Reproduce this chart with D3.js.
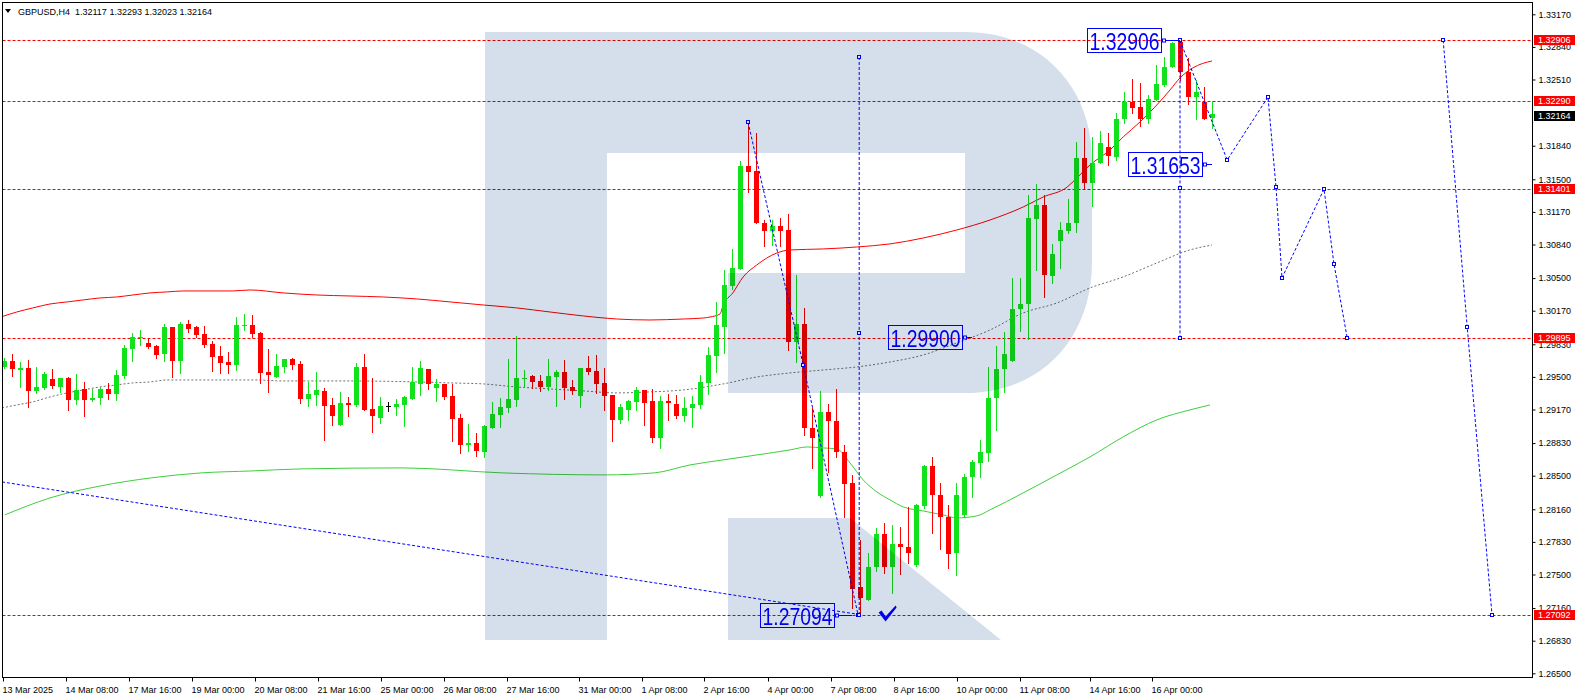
<!DOCTYPE html>
<html><head><meta charset="utf-8">
<script src="https://cdn.jsdelivr.net/npm/d3@7"></script>
<style>body{margin:0;background:#fff;overflow:hidden}svg{display:block;font-family:"Liberation Sans",Arial,sans-serif}</style>
</head><body><svg id="c" width="1578" height="698"></svg>
<script>
// ---------- DATA ----------
const title = "GBPUSD,H4  1.32117 1.32293 1.32023 1.32164";
const opens = [1.2960,1.2966,1.2957,1.2959,1.2936,1.2939,1.2948,1.2940,1.2949,1.2927,1.2938,1.2927,1.2929,1.2938,1.2933,1.2951,1.2978,1.2989,1.2984,1.2981,1.2973,1.3000,1.2966,1.3004,1.3001,1.2993,1.2983,1.2971,1.2965,1.2962,1.3002,1.3003,1.2994,1.2955,1.2950,1.2960,1.2968,1.2963,1.2928,1.2932,1.2936,1.2922,1.2901,1.2924,1.2922,1.2960,1.2918,1.2908,1.2921,1.2920,1.2922,1.2928,1.2943,1.2958,1.2939,1.2943,1.2931,1.2908,1.2881,1.2883,1.2874,1.2898,1.2911,1.2919,1.2927,1.2948,1.2951,1.2946,1.2940,1.2950,1.2955,1.2940,1.2931,1.2959,1.2956,1.2944,1.2932,1.2906,1.2917,1.2925,1.2937,1.2926,1.2888,1.2926,1.2923,1.2910,1.2919,1.2922,1.2944,1.2971,1.3000,1.3042,1.3059,1.3163,1.3158,1.3106,1.3098,1.3103,1.3099,1.2985,1.3004,1.2898,1.2829,1.2914,1.2905,1.2874,1.2843,1.2737,1.2724,1.2758,1.2791,1.2758,1.2781,1.2778,1.2760,1.2819,1.2860,1.2830,1.2808,1.2772,1.2810,1.2849,1.2863,1.2873,1.2929,1.2958,1.2966,1.3019,1.3024,1.3110,1.3124,1.3052,1.3088,1.3098,1.3106,1.3172,1.3146,1.3167,1.3183,1.3173,1.3211,1.3228,1.3223,1.3211,1.3230,1.3245,1.3264,1.3289,1.3259,1.3233,1.3228,1.32117];
const highs = [1.2969,1.2973,1.2965,1.2967,1.2960,1.2955,1.2958,1.2949,1.2950,1.2953,1.2945,1.2938,1.2940,1.2944,1.2957,1.2982,1.2994,1.2997,1.2989,1.2982,1.3004,1.3001,1.3006,1.3008,1.3002,1.3002,1.2986,1.2981,1.2975,1.3011,1.3014,1.3013,1.2995,1.2978,1.2973,1.2968,1.2969,1.2966,1.2945,1.2955,1.2939,1.2929,1.2935,1.2930,1.2964,1.2973,1.2949,1.2930,1.2925,1.2928,1.2931,1.2960,1.2966,1.2958,1.2948,1.2943,1.2943,1.2912,1.2902,1.2893,1.2901,1.2925,1.2929,1.2968,1.2991,1.2957,1.2952,1.2952,1.2968,1.2957,1.2967,1.2947,1.2959,1.2971,1.2972,1.2959,1.2932,1.2923,1.2927,1.2940,1.2937,1.2938,1.2931,1.2933,1.2932,1.2930,1.2931,1.2952,1.2980,1.3026,1.3058,1.3079,1.3169,1.3208,1.3197,1.3109,1.3109,1.3111,1.3115,1.3053,1.3020,1.2919,1.2936,1.2923,1.2938,1.2881,1.2851,1.2785,1.2772,1.2797,1.2802,1.2800,1.2798,1.2818,1.2821,1.2861,1.2869,1.2843,1.2820,1.2843,1.2852,1.2866,1.2886,1.2960,1.2981,1.2995,1.3050,1.3050,1.3134,1.3145,1.3134,1.3085,1.3107,1.3130,1.3188,1.3202,1.3193,1.3199,1.3197,1.3217,1.3238,1.3252,1.3247,1.3235,1.3266,1.3274,1.3289,1.32906,1.3273,1.3250,1.3243,1.32293];
const lows = [1.2959,1.2951,1.2940,1.2920,1.2934,1.2938,1.2939,1.2935,1.2916,1.2923,1.2910,1.2926,1.2923,1.2928,1.2927,1.2949,1.2966,1.2982,1.2979,1.2969,1.2966,1.2950,1.2954,1.2995,1.2990,1.2980,1.2956,1.2954,1.2954,1.2957,1.2997,1.2990,1.2944,1.2935,1.2950,1.2955,1.2958,1.2924,1.2921,1.2922,1.2886,1.2901,1.2901,1.2910,1.2921,1.2917,1.2894,1.2903,1.2915,1.2911,1.2900,1.2928,1.2932,1.2938,1.2926,1.2928,1.2885,1.2873,1.2875,1.2870,1.2869,1.2898,1.2899,1.2914,1.2921,1.2940,1.2939,1.2936,1.2937,1.2921,1.2928,1.2933,1.2920,1.2953,1.2934,1.2917,1.2885,1.2903,1.2906,1.2917,1.2901,1.2884,1.2878,1.2906,1.2908,1.2905,1.2899,1.2919,1.2933,1.2955,1.2974,1.3039,1.3059,1.3137,1.3106,1.3082,1.3084,1.3082,1.2977,1.2965,1.2891,1.2858,1.2828,1.2854,1.2869,1.2808,1.2716,1.27094,1.2724,1.2754,1.2752,1.2731,1.2750,1.2762,1.2759,1.2817,1.2792,1.2776,1.2757,1.2749,1.2808,1.2828,1.2849,1.2865,1.2896,1.2935,1.2966,1.2996,1.2988,1.3058,1.3031,1.3045,1.3060,1.3096,1.3097,1.3141,1.3123,1.3167,1.3164,1.3170,1.3207,1.3217,1.3204,1.3207,1.3230,1.3244,1.3264,1.3250,1.3226,1.3211,1.3211,1.32023];
const closes = [1.2966,1.2958,1.2959,1.2936,1.2940,1.2953,1.2941,1.2949,1.2927,1.2937,1.2927,1.2929,1.2938,1.2933,1.2952,1.2979,1.2990,1.2990,1.2980,1.2972,1.3000,1.2966,1.3004,1.2998,1.2992,1.2982,1.2970,1.2964,1.2962,1.3003,1.3003,1.2993,1.2954,1.2952,1.2961,1.2968,1.2962,1.2928,1.2933,1.2937,1.2921,1.2910,1.2924,1.2922,1.2960,1.2917,1.2910,1.2921,1.2921,1.2923,1.2930,1.2945,1.2959,1.2943,1.2943,1.2930,1.2907,1.2881,1.2883,1.2875,1.2900,1.2912,1.2920,1.2928,1.2949,1.2949,1.2945,1.2940,1.2951,1.2955,1.2939,1.2936,1.2959,1.2955,1.2943,1.2931,1.2906,1.2920,1.2926,1.2937,1.2924,1.2888,1.2926,1.2924,1.2910,1.2919,1.2923,1.2945,1.2972,1.3003,1.3043,1.3060,1.3163,1.3157,1.3106,1.3098,1.3103,1.3098,1.2985,1.3004,1.2898,1.2888,1.2914,1.2905,1.2874,1.2842,1.2735,1.2726,1.2758,1.2791,1.2758,1.2781,1.2778,1.2772,1.2820,1.2860,1.2830,1.2808,1.2771,1.2830,1.2849,1.2864,1.2874,1.2929,1.2958,1.2973,1.3019,1.3024,1.3111,1.3124,1.3053,1.3074,1.3099,1.3106,1.3172,1.3146,1.3167,1.3187,1.3174,1.3211,1.3228,1.3222,1.3211,1.3231,1.3246,1.3264,1.3288,1.3259,1.3233,1.3238,1.3211,1.32164];

// moving averages (bar position, price)
const redPos = [-0.25,1.6,3.6,5.75,7.9,9.9,12,14.1,16.1,18.25,20.4,22.4,24.5,28.6,30.75,34.9,39.1,43.25,47.4,51.6,55.75,59.9,64.1,68.25,72.4,76.6,80.75,84.9,87.4,88.25,89.5,89.9,91.1,92.4,94.1,96.6,98.25,102.4,106.6,110.75,114.9,119.1,123.25,127.4,129.9,132.9,134.1,135.75,138.25,139.9,142,144.1,145.75,147,148.6,151];
const redVal = [1.30110,1.30157,1.30198,1.30238,1.30259,1.30279,1.30299,1.30309,1.30329,1.30350,1.30360,1.30370,1.30370,1.30370,1.30380,1.30350,1.30329,1.30319,1.30309,1.30289,1.30259,1.30228,1.30198,1.30157,1.30117,1.30086,1.30076,1.30086,1.30096,1.30106,1.30137,1.30228,1.30350,1.30512,1.30633,1.30754,1.30785,1.30795,1.30815,1.30846,1.30906,1.30987,1.31088,1.31220,1.31321,1.31422,1.31513,1.31645,1.31797,1.31929,1.32080,1.32252,1.32404,1.32526,1.32627,1.32698];
const grayPos = [-0.25,1.6,3.6,5.75,7.9,9.9,12,14.1,16.1,18.25,20.4,24.5,28.6,31.5,34.9,43.25,51.6,55.75,59.9,64.1,68.25,72.4,76.6,80.75,84.9,89.9,94.1,98.25,102.4,106.6,110.75,114.9,119.1,123.25,127.4,131.6,135.75,139.9,144.1,148.25,151];
const grayVal = [1.29186,1.29216,1.29247,1.29297,1.29338,1.29368,1.29398,1.29419,1.29439,1.29449,1.29469,1.29469,1.29469,1.29469,1.29459,1.29459,1.29449,1.29439,1.29429,1.29398,1.29378,1.29358,1.29338,1.29348,1.29368,1.29429,1.29499,1.29540,1.29570,1.29601,1.29651,1.29722,1.29844,1.29975,1.30147,1.30248,1.30400,1.30512,1.30653,1.30785,1.30835];
const greenPos = [0.1,5.75,12.1,18.4,24.6,30.9,37.25,49.75,62.4,75,81.25,85.75,89.9,94.1,98.25,100.4,102.4,104.1,105.75,107.4,109.1,110.75,112.4,114.9,117.4,119.1,121.6,123.25,127.4,131.6,135.75,139.9,144.1,148.25,150.75];
const greenVal = [1.28103,1.28275,1.28397,1.28478,1.28528,1.28548,1.28569,1.28579,1.28528,1.28508,1.28528,1.28609,1.28660,1.28710,1.28761,1.28791,1.28781,1.28771,1.28629,1.28457,1.28336,1.28255,1.28184,1.28143,1.28103,1.28073,1.28093,1.28154,1.28326,1.28508,1.28690,1.28893,1.29065,1.29166,1.29216];

// horizontal levels
const levels = [1.32906, 1.32290, 1.31401, 1.29895, 1.27092];
const currentPrice = 1.32164;

// forecast drawings (bar position, price)
const trendPos = [-0.25, 107], trendVal = [1.28437, 1.27094];
const wavePos = [93, 99.9, 106.75], waveVal = [1.3208, 1.29621, 1.27094];
const vLine1Pos = 106.9, vLine1Val = [1.32738, 1.29945, 1.27094];
const vLine2Pos = 147, vLine2Val = [1.32906, 1.31412, 1.29895];
const fcPos = [147, 152.9, 158, 159, 159.75, 165, 166.25, 167.9];
const fcVal = [1.32906, 1.31696, 1.32333, 1.31422, 1.30502, 1.31401, 1.30643, 1.29895];
const fc2Pos = [179.9, 182.9, 186], fc2Val = [1.32906, 1.30005, 1.27092];
const noteVal = [1.32906, 1.31653, 1.29900, 1.27094];
const notePos = [147, 151, 121, 106];

// axes
const priceTicks = [1.33170,1.32840,1.32510,1.31840,1.31500,1.31170,1.30840,1.30500,1.30170,1.29830,1.29500,1.29170,1.28830,1.28500,1.28160,1.27830,1.27500,1.27160,1.26830,1.26500];
const timeLabels = ["13 Mar 2025","14 Mar 08:00","17 Mar 16:00","19 Mar 00:00","20 Mar 08:00","21 Mar 16:00","25 Mar 00:00","26 Mar 08:00","27 Mar 16:00","31 Mar 00:00","1 Apr 08:00","2 Apr 16:00","4 Apr 00:00","7 Apr 08:00","8 Apr 16:00","10 Apr 00:00","11 Apr 08:00","14 Apr 16:00","16 Apr 00:00"];
const timePos = [-0.125,7.75,15.625,23.5,31.375,39.25,47.125,55,62.875,71.875,79.75,87.5,95.5,103.375,111.25,119.125,127,135.75,143.5];

// ---------- DRAW ----------
const svg = d3.select('#c');
const L = 2.5, R = 1532.5, T = 2.5, B = 677.5;
const x = d3.scaleLinear().domain([0, 151]).range([4, 1212]);
const y = d3.scaleLinear().domain([1.26500, 1.33170]).range([673.3, 14.3]);
const BLUE = '#0000ff', RED = '#ff0000', BULL = '#12e21c';

svg.append('defs').append('clipPath').attr('id','pc')
  .append('rect').attr('x',L).attr('y',T).attr('width',R-L).attr('height',B-T);
const g = svg.append('g').attr('clip-path','url(#pc)');

// levels
g.selectAll('.lvl').data(levels).join('line')
  .attr('x1',L).attr('x2',R)
  .attr('y1',d=>Math.round(y(d))+0.5).attr('y2',d=>Math.round(y(d))+0.5)
  .attr('stroke',RED).attr('stroke-dasharray','3,2');

// MAs
const ln = d3.line().x(d=>x(d[0])).y(d=>y(d[1])).curve(d3.curveMonotoneX);
g.append('path').attr('d', ln(d3.zip(grayPos, grayVal))).attr('fill','none')
  .attr('stroke','#707070').attr('stroke-dasharray','2,2');
g.append('path').attr('d', ln(d3.zip(greenPos, greenVal))).attr('fill','none')
  .attr('stroke','#3ccf3c');
g.append('path').attr('d', ln(d3.zip(redPos, redVal))).attr('fill','none')
  .attr('stroke',RED);

// candles
const idx = d3.range(opens.length);
const colr = i => closes[i] > opens[i] ? BULL : (closes[i] < opens[i] ? RED : '#000');
const cg = g.append('g');
cg.selectAll('.w').data(idx).join('line')
  .attr('x1',i=>Math.round(x(i))+0.5).attr('x2',i=>Math.round(x(i))+0.5)
  .attr('y1',i=>Math.round(y(highs[i]))).attr('y2',i=>Math.round(y(lows[i]))+1)
  .attr('stroke',colr);
cg.selectAll('.b').data(idx).join('rect')
  .attr('x',i=>Math.round(x(i))-2).attr('width',5)
  .attr('y',i=>Math.round(y(Math.max(opens[i],closes[i]))))
  .attr('height',i=>Math.max(1, Math.round(y(Math.min(opens[i],closes[i])))-Math.round(y(Math.max(opens[i],closes[i])))))
  .attr('fill',colr);

// blue drawings
const dash = '3,2';
const bl = d3.line().x(d=>x(d[0])).y(d=>y(d[1]));
const bg = g.append('g').attr('fill','none').attr('stroke',BLUE).attr('stroke-dasharray',dash);
bg.append('path').attr('d', bl(d3.zip(trendPos, trendVal)));
bg.append('path').attr('d', bl(d3.zip(wavePos, waveVal)));
bg.append('path').attr('d', bl(vLine1Val.map(v=>[vLine1Pos, v])));
bg.append('path').attr('d', bl(vLine2Val.map(v=>[vLine2Pos, v])));
bg.append('path').attr('d', bl(d3.zip(fcPos, fcVal)));
bg.append('path').attr('d', bl(d3.zip(fc2Pos, fc2Val)));

const markers = [].concat(
  d3.zip(wavePos, waveVal),
  vLine1Val.map(v=>[vLine1Pos, v]),
  vLine2Val.map(v=>[vLine2Pos, v]),
  d3.zip(fcPos, fcVal).slice(1),
  d3.zip(fc2Pos, fc2Val));
g.selectAll('.mk').data(markers).join('rect')
  .attr('x',d=>Math.round(x(d[0]))-1.5).attr('y',d=>Math.round(y(d[1]))-1.5)
  .attr('width',3).attr('height',3).attr('fill','#fff').attr('stroke',BLUE);

// note boxes
const boxOff = [19, 10, 10, 18];
noteVal.forEach((v,k)=>{
  const ax = x(notePos[k]);
  const right = Math.round(ax - boxOff[k]) + 0.5;
  const cy = Math.round(y(v));
  g.append('line').attr('x1',right).attr('x2',ax).attr('y1',cy+0.5).attr('y2',cy+0.5).attr('stroke',BLUE);
  g.append('rect').attr('x',right+1).attr('y',cy-1).attr('width',3).attr('height',3).attr('fill','#fff').attr('stroke',BLUE);
  g.append('rect').attr('x',right-74).attr('y',cy-12+0.5).attr('width',74).attr('height',24)
    .attr('fill','none').attr('stroke',BLUE);
  g.append('text').attr('x',right-37).attr('y',cy+9.5).attr('text-anchor','middle')
    .attr('font-family','"Liberation Sans Narrow","Liberation Sans",Arial,sans-serif')
    .attr('font-size',23.5).attr('fill',BLUE)
    .attr('textLength',70).attr('lengthAdjust','spacingAndGlyphs')
    .text(v.toFixed(5));
});
// check mark at low
{
  const cx = x(110.2), cy = y(1.27094);
  g.append('path').attr('d',`M${cx-7},${cy-2} L${cx-4},${cy-4} L${cx},${cy+2} L${cx+10},${cy-9} L${cx+11},${cy-7} L${cx},${cy+7} Z`)
   .attr('fill',BLUE);
}

// watermark (multiply over chart)
const wm = "M485,32 H965 C1042,32 1092,88 1092,160 V262 C1092,338 1042,393 965,393 H728 V273 H965 V153 H607 V640 H485 Z" +
           " M728,518 H850 L1001,640 H728 Z";
g.append('path').attr('d',wm).attr('fill','#d5dfeb').style('mix-blend-mode','multiply');

// frame
svg.append('rect').attr('x',L).attr('y',T).attr('width',R-L).attr('height',B-T).attr('fill','none').attr('stroke','#000');

// price axis
const ay = svg.append('g').attr('transform',`translate(${R},0)`)
  .call(d3.axisRight(y).tickValues(priceTicks).tickSize(3).tickPadding(3).tickFormat(d3.format('.5f')));
ay.select('.domain').remove();
ay.selectAll('text').attr('font-size',9).attr('font-family','"Liberation Sans",Arial,sans-serif').attr('fill','#000');
ay.selectAll('line').attr('stroke','#000');

// level tags
svg.selectAll('.tag').data(levels).join('rect')
  .attr('x',1534).attr('width',41).attr('y',d=>Math.round(y(d))-5).attr('height',10).attr('fill',RED);
svg.selectAll('.tagt').data(levels).join('text')
  .attr('x',1538).attr('y',d=>Math.round(y(d))+3.3).attr('font-size',9).attr('fill','#fff').text(d=>d.toFixed(5));
svg.append('rect').attr('x',1534).attr('width',41).attr('y',Math.round(y(currentPrice))-3).attr('height',10).attr('fill','#000');
svg.append('text').attr('x',1538).attr('y',Math.round(y(currentPrice))+5.3).attr('font-size',9).attr('fill','#fff').text(currentPrice.toFixed(5));

// time axis
const ax = svg.append('g').attr('transform',`translate(0,${B})`)
  .call(d3.axisBottom(x).tickValues(timePos).tickSize(4).tickPadding(5).tickFormat((d,i)=>timeLabels[i]));
ax.select('.domain').remove();
ax.selectAll('text').attr('text-anchor','start').attr('dx',-1).attr('font-size',9)
  .attr('font-family','"Liberation Sans",Arial,sans-serif').attr('fill','#000');
ax.selectAll('line').attr('stroke','#000');

// title
svg.append('path').attr('d','M5,9 L11,9 L8,13 Z').attr('fill','#000');
svg.append('text').attr('x',18).attr('y',15).attr('font-size',9).attr('fill','#000').attr('xml:space','preserve').style('white-space','pre').text(title);
</script></body></html>
